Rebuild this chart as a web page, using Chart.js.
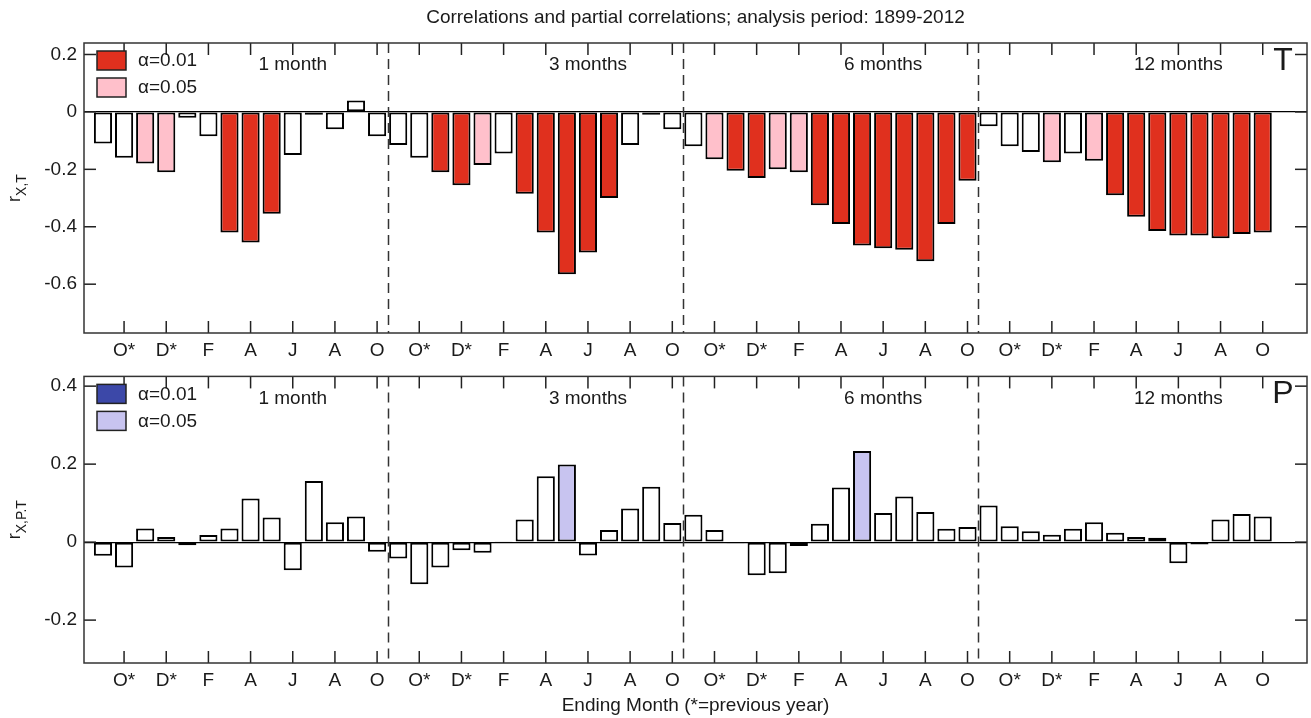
<!DOCTYPE html>
<html>
<head>
<meta charset="utf-8">
<script src="https://cdn.jsdelivr.net/npm/chart.js@4.4.1/dist/chart.umd.min.js"></script>
<style>
  body { margin: 0; background: #fff; }
  #topWrap { position: absolute; left: 0; top: 0; }
  #botWrap { position: absolute; left: 0; top: 358px; }
</style>
</head>
<body>
<div id="topWrap"><canvas id="tChart" width="1311" height="362"></canvas></div>
<div id="botWrap"><canvas id="pChart" width="1311" height="360"></canvas></div>
<script>
const titleText = 'Correlations and partial correlations; analysis period: 1899-2012';
const xTitle = 'Ending Month (*=previous year)';
const periods = ['1 month', '3 months', '6 months', '12 months'];
// months in each period block, S* (previous year) .. O
const monthLabels = ['S*', 'O*', 'N*', 'D*', 'J', 'F', 'M', 'A', 'M', 'J', 'J', 'A', 'S', 'O'];
const tickPos = [1, 3, 5, 7, 9, 11, 13, 15, 17, 19, 21, 23, 25, 27, 29, 31, 33, 35, 37, 39, 41, 43, 45, 47, 49, 51, 53, 55];
const groupBreaks = [13.5, 27.5, 41.5];
const groupLabelPos = [9, 23, 37, 51];
const alphaLabels = ['α=0.01', 'α=0.05'];

const tempCorr = [
  -0.11, -0.16, -0.18, -0.21, -0.02, -0.085, -0.42, -0.455, -0.355, -0.15, -0.01, -0.06, 0.04, -0.085,
  -0.115, -0.16, -0.21, -0.255, -0.185, -0.145, -0.285, -0.42, -0.565, -0.49, -0.3, -0.115, -0.01, -0.06,
  -0.12, -0.165, -0.205, -0.23, -0.2, -0.21, -0.325, -0.39, -0.465, -0.475, -0.48, -0.52, -0.39, -0.24,
  -0.05, -0.12, -0.14, -0.175, -0.145, -0.17, -0.29, -0.365, -0.415, -0.43, -0.43, -0.44, -0.425, -0.42
];
// 0 = not significant, 1 = alpha 0.05, 2 = alpha 0.01
const tempSig = [
  0, 0, 1, 1, 0, 0, 2, 2, 2, 0, 0, 0, 0, 0,
  0, 0, 2, 2, 1, 0, 2, 2, 2, 2, 2, 0, 0, 0,
  0, 1, 2, 2, 1, 1, 2, 2, 2, 2, 2, 2, 2, 2,
  0, 0, 0, 1, 0, 1, 2, 2, 2, 2, 2, 2, 2, 2
];
const precCorr = [
  -0.035, -0.065, 0.035, 0.013, -0.008, 0.018, 0.035, 0.112, 0.063, -0.072, 0.157, 0.051, 0.066, -0.025,
  -0.042, -0.108, -0.065, -0.021, -0.027, 0.002, 0.058, 0.169, 0.199, -0.034, 0.031, 0.086, 0.142, 0.049,
  0.07, 0.031, -0.003, -0.085, -0.08, -0.01, 0.047, 0.14, 0.234, 0.075, 0.117, 0.077, 0.034, 0.039,
  0.094, 0.041, 0.028, 0.019, 0.034, 0.051, 0.024, 0.013, 0.011, -0.054, -0.006, 0.058, 0.072, 0.066
];
const precSig = [
  0, 0, 0, 0, 0, 0, 0, 0, 0, 0, 0, 0, 0, 0,
  0, 0, 0, 0, 0, 0, 0, 0, 1, 0, 0, 0, 0, 0,
  0, 0, 0, 0, 0, 0, 0, 0, 1, 0, 0, 0, 0, 0,
  0, 0, 0, 0, 0, 0, 0, 0, 0, 0, 0, 0, 0, 0
];
const tTicks = [0.2, 0, -0.2, -0.4, -0.6];
const pTicks = [0.4, 0.2, 0, -0.2];

const redColors = ['#ffffff', '#ffc0cb', '#e0301e'];
const blueColors = ['#ffffff', '#c8c4f0', '#3c48a8'];
const FONT = '"Liberation Sans", Arial, sans-serif';
const TXT = '#1a1a1a';

function line(ctx, x1, y1, x2, y2) {
  ctx.beginPath();
  ctx.moveTo(x1, y1);
  ctx.lineTo(x2, y2);
  ctx.stroke();
}

const panelDecor = {
  id: 'panelDecor',
  afterDraw(chart, args, opts) {
    const { ctx, chartArea: a, scales: { x, y } } = chart;
    ctx.save();

    // block separators
    ctx.strokeStyle = '#333';
    ctx.lineWidth = 1.5;
    ctx.setLineDash([10, 6]);
    groupBreaks.forEach(b => {
      const px = Math.round(x.getPixelForValue(b)) + 0.5;
      line(ctx, px, a.top, px, a.bottom);
    });
    ctx.setLineDash([]);

    // inward tick marks
    ctx.strokeStyle = '#222';
    ctx.lineWidth = 1.5;
    x.ticks.forEach(t => {
      const px = x.getPixelForValue(t.value);
      line(ctx, px, a.top, px, a.top + 12);
      line(ctx, px, a.bottom - 12, px, a.bottom);
    });
    y.ticks.forEach(t => {
      const py = y.getPixelForValue(t.value);
      line(ctx, a.left, py, a.left + 12, py);
      line(ctx, a.right - 12, py, a.right, py);
    });

    // frame
    ctx.strokeStyle = '#333';
    ctx.lineWidth = 1.5;
    ctx.strokeRect(a.left, a.top, a.right - a.left, a.bottom - a.top);

    ctx.fillStyle = TXT;
    ctx.textBaseline = 'middle';

    // period labels
    ctx.font = '19px ' + FONT;
    ctx.textAlign = 'center';
    periods.forEach((p, i) => ctx.fillText(p, x.getPixelForValue(groupLabelPos[i]), a.top + 22));

    // legend
    ctx.textAlign = 'left';
    alphaLabels.forEach((lab, i) => {
      const top = a.top + 8 + i * 27;
      ctx.fillStyle = opts.colors[2 - i];
      ctx.fillRect(a.left + 13, top, 29, 19);
      ctx.strokeStyle = '#222';
      ctx.lineWidth = 1.5;
      ctx.strokeRect(a.left + 13, top, 29, 19);
      ctx.fillStyle = TXT;
      ctx.fillText(lab, a.left + 54, top + 10);
    });

    // panel letter
    ctx.font = '32px ' + FONT;
    ctx.textAlign = 'center';
    ctx.fillText(opts.letter, a.right - 24, a.top + 18);

    // y axis label: r with subscript
    const yc = (a.top + a.bottom) / 2;
    ctx.translate(20, yc);
    ctx.rotate(-Math.PI / 2);
    ctx.textAlign = 'left';
    ctx.textBaseline = 'alphabetic';
    ctx.font = '18px ' + FONT;
    const rw = ctx.measureText('r').width;
    ctx.font = '14px ' + FONT;
    const sw = ctx.measureText(opts.sub).width;
    const start = -(rw + sw) / 2;
    ctx.font = '18px ' + FONT;
    ctx.fillText('r', start, 0);
    ctx.font = '14px ' + FONT;
    ctx.fillText(opts.sub, start + rw, 6);
    ctx.restore();

    // headline / axis title
    ctx.save();
    ctx.fillStyle = TXT;
    ctx.textAlign = 'center';
    ctx.textBaseline = 'middle';
    if (opts.title) {
      ctx.font = '19px ' + FONT;
      ctx.fillText(opts.title, (a.left + a.right) / 2, 18);
    }
    if (opts.xTitle) {
      ctx.font = '19px ' + FONT;
      ctx.fillText(opts.xTitle, (a.left + a.right) / 2, a.bottom + 43);
    }
    ctx.restore();
  }
};

function makeChart(canvasId, values, sig, colors, yMin, yMax, yTicks, extra, padTop, xHeight) {
  return new Chart(document.getElementById(canvasId), {
    type: 'bar',
    data: {
      datasets: [{
        data: values.map((v, i) => ({ x: i, y: v })),
        backgroundColor: sig.map(s => colors[s]),
        borderColor: '#000',
        borderWidth: 2,
        borderSkipped: false,
        barPercentage: 0.86,
        categoryPercentage: 1
      }]
    },
    options: {
      responsive: false,
      animation: false,
      devicePixelRatio: 1,
      layout: { padding: { top: padTop, right: 4, left: 0, bottom: 0 } },
      plugins: {
        legend: { display: false },
        tooltip: { enabled: false },
        panelDecor: extra
      },
      scales: {
        x: {
          type: 'linear',
          min: -0.9,
          max: 57.1,
          offset: false,
          grid: { display: false, drawTicks: false, offset: false },
          border: { display: false },
          afterBuildTicks: s => { s.ticks = tickPos.map(v => ({ value: v })); },
          afterFit: s => { s.height = xHeight; },
          ticks: {
            autoSkip: false,
            maxRotation: 0,
            padding: 6,
            color: TXT,
            font: { size: 19, family: FONT },
            callback: v => monthLabels[v % 14]
          }
        },
        y: {
          min: yMin,
          max: yMax,
          grid: {
            drawTicks: false,
            color: c => (c.tick && c.tick.value === 0 ? '#000' : 'rgba(0,0,0,0)'),
            lineWidth: 1.2
          },
          border: { display: false },
          afterBuildTicks: s => { s.ticks = yTicks.map(v => ({ value: v })); },
          afterFit: s => { s.width = 84; },
          ticks: {
            padding: 7,
            color: TXT,
            font: { size: 19, family: FONT },
            callback: v => String(Number(v.toFixed(2)))
          }
        }
      }
    },
    plugins: [panelDecor]
  });
}

makeChart('tChart', tempCorr, tempSig, redColors, -0.77, 0.24, tTicks,
  { colors: redColors, letter: 'T', sub: 'X,T', title: titleText }, 43, 29);
makeChart('pChart', precCorr, precSig, blueColors, -0.31, 0.425, pTicks,
  { colors: blueColors, letter: 'P', sub: 'X,P.T', xTitle: xTitle }, 14, 55);
</script>
</body>
</html>
